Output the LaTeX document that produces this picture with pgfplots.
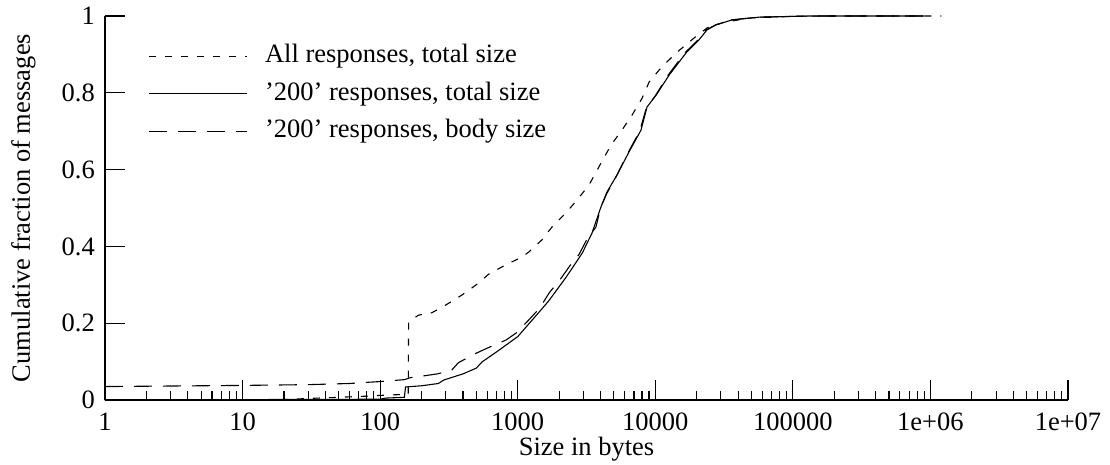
\documentclass[border=0pt]{standalone}
\usepackage{pgfplots}
\pgfplotsset{compat=1.18}
\usepackage{fontspec}
\setmainfont{Liberation Serif}

\pgfplotstableread{
x y
1 0
20 0.001
30 0.004
50 0.007
80 0.010
100 0.012
160 0.015
161 0.203
190 0.221
237 0.227
299 0.247
392 0.273
495 0.299
617 0.328
819 0.352
1070 0.372
1200 0.385
1500 0.417
1770 0.450
2240 0.487
2700 0.521
3300 0.560
4030 0.617
4770 0.664
5730 0.703
6780 0.742
8020 0.786
9020 0.828
11000 0.865
14200 0.904
19200 0.943
23800 0.969
31700 0.984
50000 0.995
100000 0.999
200000 1.0
1200000 1.0
}\allresp

\pgfplotstableread{
x y
1 0
100 0.002
110 0.005
150 0.007
153 0.034
200 0.037
265 0.043
290 0.052
400 0.068
500 0.083
550 0.099
700 0.125
1000 0.165
1150 0.190
1400 0.225
1680 0.258
2250 0.320
2950 0.383
3470 0.435
4030 0.503
4460 0.542
5270 0.586
6440 0.646
7880 0.703
8710 0.763
10140 0.794
12600 0.846
16750 0.904
20800 0.938
23800 0.964
27700 0.977
36300 0.990
57000 0.997
132000 1.0
900000 1.0
}\oktotal

\pgfplotstableread{
x y
1 0.035
10 0.038
30 0.040
60 0.043
80 0.046
100 0.048
150 0.053
165 0.058
200 0.062
260 0.068
330 0.077
370 0.097
500 0.122
600 0.135
820 0.156
970 0.174
1200 0.208
1450 0.240
1700 0.280
2000 0.310
2400 0.350
2800 0.380
3200 0.420
3700 0.450
4000 0.500
4400 0.535
5200 0.582
6300 0.642
7700 0.700
8600 0.760
10000 0.792
12400 0.846
16400 0.904
20500 0.938
23500 0.964
27500 0.977
36000 0.990
57000 0.997
132000 1.0
900000 1.0
}\okbody

\begin{document}
\begin{tikzpicture}[font=\fontsize{26.5}{31}\selectfont]
\begin{axis}[
  at={(0pt,0pt)}, anchor=south west,
  scale only axis,
  width=963pt, height=384pt,
  xmode=log, log basis x=10,
  xmin=1, xmax=1e7, ymin=0, ymax=1,
  enlargelimits=false,
  axis x line*=bottom, axis y line*=left,
  x axis line style={-}, y axis line style={-},
  axis line style={line width=1.2pt, black},
  tick style={line width=1.1pt, black},
  tick align=inside,
  major tick length=20pt, minor tick length=9pt,
  xtick={1,10,100,1000,10000,100000,1000000,10000000},
  xticklabels={1,10,100,1000,10000,100000,1e+06,1e+07},
  minor xtick={2,3,4,5,6,7,8,9,20,30,40,50,60,70,80,90,200,300,400,500,600,700,800,900,2000,3000,4000,5000,6000,7000,8000,9000,20000,30000,40000,50000,60000,70000,80000,90000,200000,300000,400000,500000,600000,700000,800000,900000,2000000,3000000,4000000,5000000,6000000,7000000,8000000,9000000},
  ytick={0,0.2,0.4,0.6,0.8,1},
  yticklabels={0,0.2,0.4,0.6,0.8,1},
  minor ytick={},
  xticklabel style={anchor=north, inner sep=0pt, yshift=-13pt, font=\fontsize{26.5}{31}\selectfont},
  yticklabel style={anchor=east, inner sep=0pt, xshift=-10pt, font=\fontsize{26.5}{31}\selectfont},
  xlabel={Size in bytes},
  ylabel={Cumulative fraction of messages},
  xlabel style={at={(axis description cs:0.5,0)}, anchor=base, yshift=-55pt, inner sep=0pt, font=\fontsize{26.5}{31}\selectfont},
  ylabel style={at={(axis description cs:-0.078,0.5)}, anchor=base, inner sep=0pt, font=\fontsize{26.5}{31}\selectfont},
  legend style={at={(axis description cs:0.045,0.928)}, anchor=north west, draw=none, fill=none,
    font=\fontsize{26.5}{31}\selectfont, row sep=12.5pt, column sep=0pt, inner sep=0pt,
    nodes={inner sep=0pt, text height=19pt, text depth=6pt}},
  legend cell align=left,
  legend image code/.code={\draw[#1] (0pt,0pt) -- (98pt,0pt); \path[draw=none,fill=none] (0pt,-0.1pt) rectangle (116pt,0.1pt);},
]
\addplot[black, line width=1.1pt, dash pattern=on 7pt off 9pt] table[x=x,y=y] {\allresp};
\addlegendentry{All responses, total size}
\addplot[black, line width=1.1pt] table[x=x,y=y] {\oktotal};
\addlegendentry{'200' responses, total size}
\addplot[black, line width=1.1pt, dash pattern=on 18pt off 11pt] table[x=x,y=y] {\okbody};
\addlegendentry{'200' responses, body size}
\end{axis}
\pgfresetboundingbox
\path (-105pt,-64pt) rectangle (1005pt,400pt);
\end{tikzpicture}
\end{document}
